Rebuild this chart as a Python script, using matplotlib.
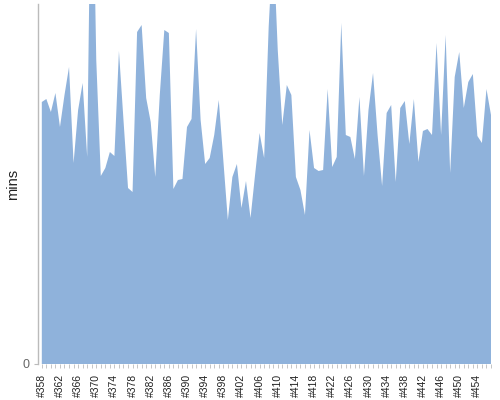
import matplotlib
matplotlib.use("Agg")
import matplotlib.pyplot as plt
from matplotlib.ticker import MultipleLocator

FILL_COLOR = "#8fb2db"
AXIS_GRAY = "#bbbbbb"
FIRST_BUILD = 358

# minutes per build (top of the axis is 360)
durations = [
    262, 265, 252, 271, 237, 269, 297, 201, 254, 281,
    207, 564, 304, 188, 196, 212, 208, 313, 244, 176,
    172, 332, 339, 266, 242, 187, 269, 334, 331, 175,
    184, 185, 237, 245, 335, 244, 200, 206, 229, 264,
    204, 144, 187, 200, 156, 183, 146, 189, 231, 206,
    337, 424, 314, 239, 279, 269, 187, 174, 149, 234,
    196, 193, 194, 275, 197, 207, 341, 229, 227, 205,
    267, 188, 254, 291, 229, 178, 251, 259, 182, 256,
    263, 220, 265, 202, 233, 235, 229, 321, 229, 329,
    191, 287, 312, 256, 282, 290, 228, 221, 275, 249,
]
builds = [f"#{FIRST_BUILD + i}" for i in range(len(durations))]
y_max = 360


def main() -> None:
    fig = plt.figure(figsize=(5, 4), dpi=100)
    ax = fig.add_axes([0.076, 0.09, 0.906, 0.90])

    xs = list(range(len(durations)))
    ax.fill_between(xs, durations, 0, color=FILL_COLOR, linewidth=0)

    ax.set_xlim(-0.84, len(durations) - 1)
    ax.set_ylim(0, y_max)

    ax.set_xticks(xs[::4])
    ax.set_xticklabels(builds[::4], rotation=90, fontsize=7.5,
                       family="Liberation Sans", color="#222222")
    ax.xaxis.set_minor_locator(MultipleLocator(1))
    ax.tick_params(axis="x", which="both", length=3, width=0.6,
                   color=AXIS_GRAY, pad=4)

    ax.set_yticks([0])
    ax.tick_params(axis="y", length=3, width=0.8, color=AXIS_GRAY,
                   labelsize=9, labelcolor="#666666", pad=3)
    for lbl in ax.get_yticklabels():
        lbl.set_family("Liberation Sans")

    ax.set_ylabel("mins", fontsize=10.5, family="Liberation Sans",
                  color="#222222")
    ax.yaxis.set_label_coords(-0.04, 0.5)

    for side in ("top", "right", "bottom"):
        ax.spines[side].set_visible(False)
    ax.spines["left"].set_color(AXIS_GRAY)
    ax.spines["left"].set_linewidth(1.0)

    fig.savefig("out.png", dpi=100)


if __name__ == "__main__":
    main()
